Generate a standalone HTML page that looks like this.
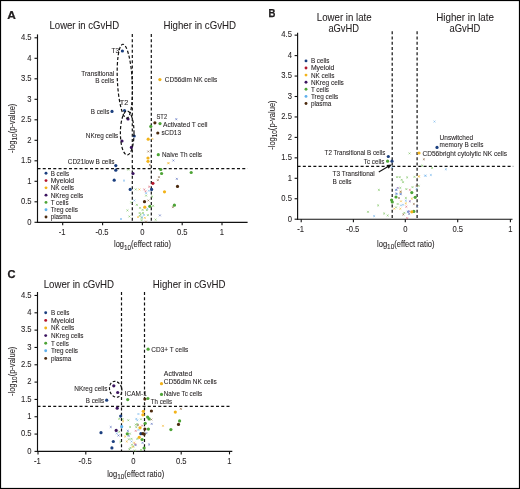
<!DOCTYPE html>
<html><head><meta charset="utf-8"><style>
html,body{margin:0;padding:0;background:#fff;}
svg{display:block;will-change:transform;}
text{font-family:"Liberation Sans", sans-serif;fill:#231f20;stroke:#231f20;stroke-width:0.08px;}
</style></head><body>
<svg width="520" height="489" viewBox="0 0 520 489">
<rect x="0" y="0" width="520" height="489" fill="#fff"/>
<text x="7.2" y="19.3" font-size="11.6" font-weight="bold" fill="#000" textLength="8.6" lengthAdjust="spacingAndGlyphs" style="stroke:#000;stroke-width:0.2px">A</text>
<text x="49.5" y="29.1" font-size="10.8" textLength="69.6" lengthAdjust="spacingAndGlyphs">Lower in cGvHD</text>
<text x="163.4" y="29.1" font-size="10.8" textLength="72.7" lengthAdjust="spacingAndGlyphs">Higher in cGvHD</text>
<line x1="36.9" y1="222.3" x2="247.6" y2="222.3" stroke="#111" stroke-width="1.15"/>
<line x1="37.5" y1="34.4" x2="37.5" y2="222.9" stroke="#111" stroke-width="1.15"/>
<line x1="34.5" y1="222.3" x2="37.5" y2="222.3" stroke="#111" stroke-width="1.1"/>
<text x="27.34" y="224.60" font-size="8.8" textLength="4.26" lengthAdjust="spacingAndGlyphs">0</text>
<line x1="34.5" y1="201.8" x2="37.5" y2="201.8" stroke="#111" stroke-width="1.1"/>
<text x="20.96" y="204.10" font-size="8.8" textLength="10.64" lengthAdjust="spacingAndGlyphs">0.5</text>
<line x1="34.5" y1="181.3" x2="37.5" y2="181.3" stroke="#111" stroke-width="1.1"/>
<text x="27.34" y="183.60" font-size="8.8" textLength="4.26" lengthAdjust="spacingAndGlyphs">1</text>
<line x1="34.5" y1="160.8" x2="37.5" y2="160.8" stroke="#111" stroke-width="1.1"/>
<text x="20.96" y="163.10" font-size="8.8" textLength="10.64" lengthAdjust="spacingAndGlyphs">1.5</text>
<line x1="34.5" y1="140.3" x2="37.5" y2="140.3" stroke="#111" stroke-width="1.1"/>
<text x="27.34" y="142.60" font-size="8.8" textLength="4.26" lengthAdjust="spacingAndGlyphs">2</text>
<line x1="34.5" y1="119.80000000000001" x2="37.5" y2="119.80000000000001" stroke="#111" stroke-width="1.1"/>
<text x="20.96" y="122.10" font-size="8.8" textLength="10.64" lengthAdjust="spacingAndGlyphs">2.5</text>
<line x1="34.5" y1="99.30000000000001" x2="37.5" y2="99.30000000000001" stroke="#111" stroke-width="1.1"/>
<text x="27.34" y="101.60" font-size="8.8" textLength="4.26" lengthAdjust="spacingAndGlyphs">3</text>
<line x1="34.5" y1="78.80000000000001" x2="37.5" y2="78.80000000000001" stroke="#111" stroke-width="1.1"/>
<text x="20.96" y="81.10" font-size="8.8" textLength="10.64" lengthAdjust="spacingAndGlyphs">3.5</text>
<line x1="34.5" y1="58.30000000000001" x2="37.5" y2="58.30000000000001" stroke="#111" stroke-width="1.1"/>
<text x="27.34" y="60.60" font-size="8.8" textLength="4.26" lengthAdjust="spacingAndGlyphs">4</text>
<line x1="34.5" y1="37.80000000000001" x2="37.5" y2="37.80000000000001" stroke="#111" stroke-width="1.1"/>
<text x="20.96" y="40.10" font-size="8.8" textLength="10.64" lengthAdjust="spacingAndGlyphs">4.5</text>
<line x1="62.7" y1="222.3" x2="62.7" y2="225.3" stroke="#111" stroke-width="1.1"/>
<text x="58.70" y="235.20" font-size="8.8" textLength="6.81" lengthAdjust="spacingAndGlyphs">-1</text>
<line x1="102.6" y1="222.3" x2="102.6" y2="225.3" stroke="#111" stroke-width="1.1"/>
<text x="95.40" y="235.20" font-size="8.8" textLength="13.19" lengthAdjust="spacingAndGlyphs">-0.5</text>
<line x1="142.4" y1="222.3" x2="142.4" y2="225.3" stroke="#111" stroke-width="1.1"/>
<text x="140.27" y="235.20" font-size="8.8" textLength="4.26" lengthAdjust="spacingAndGlyphs">0</text>
<line x1="182.2" y1="222.3" x2="182.2" y2="225.3" stroke="#111" stroke-width="1.1"/>
<text x="176.88" y="235.20" font-size="8.8" textLength="10.64" lengthAdjust="spacingAndGlyphs">0.5</text>
<line x1="222.0" y1="222.3" x2="222.0" y2="225.3" stroke="#111" stroke-width="1.1"/>
<text x="219.87" y="235.20" font-size="8.8" textLength="4.26" lengthAdjust="spacingAndGlyphs">1</text>
<line x1="132.3" y1="34" x2="132.3" y2="222.3" stroke="#111" stroke-width="1.2" stroke-dasharray="3 2.25"/>
<line x1="151.3" y1="34" x2="151.3" y2="222.3" stroke="#111" stroke-width="1.2" stroke-dasharray="3 2.25"/>
<line x1="37.5" y1="168.6" x2="247.6" y2="168.6" stroke="#111" stroke-width="1.2" stroke-dasharray="3 2.25"/>
<text x="268.6" y="17.0" font-size="11.6" font-weight="bold" fill="#000" textLength="6.9" lengthAdjust="spacingAndGlyphs" style="stroke:#000;stroke-width:0.25px">B</text>
<line x1="297.0" y1="219.2" x2="512.5" y2="219.2" stroke="#111" stroke-width="1.15"/>
<line x1="297.6" y1="32.7" x2="297.6" y2="219.79999999999998" stroke="#111" stroke-width="1.15"/>
<line x1="294.6" y1="219.2" x2="297.6" y2="219.2" stroke="#111" stroke-width="1.1"/>
<text x="287.64" y="221.50" font-size="8.8" textLength="4.26" lengthAdjust="spacingAndGlyphs">0</text>
<line x1="294.6" y1="198.75" x2="297.6" y2="198.75" stroke="#111" stroke-width="1.1"/>
<text x="281.26" y="201.05" font-size="8.8" textLength="10.64" lengthAdjust="spacingAndGlyphs">0.5</text>
<line x1="294.6" y1="178.29999999999998" x2="297.6" y2="178.29999999999998" stroke="#111" stroke-width="1.1"/>
<text x="287.64" y="180.60" font-size="8.8" textLength="4.26" lengthAdjust="spacingAndGlyphs">1</text>
<line x1="294.6" y1="157.85" x2="297.6" y2="157.85" stroke="#111" stroke-width="1.1"/>
<text x="281.26" y="160.15" font-size="8.8" textLength="10.64" lengthAdjust="spacingAndGlyphs">1.5</text>
<line x1="294.6" y1="137.39999999999998" x2="297.6" y2="137.39999999999998" stroke="#111" stroke-width="1.1"/>
<text x="287.64" y="139.70" font-size="8.8" textLength="4.26" lengthAdjust="spacingAndGlyphs">2</text>
<line x1="294.6" y1="116.94999999999999" x2="297.6" y2="116.94999999999999" stroke="#111" stroke-width="1.1"/>
<text x="281.26" y="119.25" font-size="8.8" textLength="10.64" lengthAdjust="spacingAndGlyphs">2.5</text>
<line x1="294.6" y1="96.5" x2="297.6" y2="96.5" stroke="#111" stroke-width="1.1"/>
<text x="287.64" y="98.80" font-size="8.8" textLength="4.26" lengthAdjust="spacingAndGlyphs">3</text>
<line x1="294.6" y1="76.04999999999998" x2="297.6" y2="76.04999999999998" stroke="#111" stroke-width="1.1"/>
<text x="281.26" y="78.35" font-size="8.8" textLength="10.64" lengthAdjust="spacingAndGlyphs">3.5</text>
<line x1="294.6" y1="55.599999999999994" x2="297.6" y2="55.599999999999994" stroke="#111" stroke-width="1.1"/>
<text x="287.64" y="57.90" font-size="8.8" textLength="4.26" lengthAdjust="spacingAndGlyphs">4</text>
<line x1="294.6" y1="35.150000000000006" x2="297.6" y2="35.150000000000006" stroke="#111" stroke-width="1.1"/>
<text x="281.26" y="37.45" font-size="8.8" textLength="10.64" lengthAdjust="spacingAndGlyphs">4.5</text>
<line x1="301.2" y1="219.2" x2="301.2" y2="222.2" stroke="#111" stroke-width="1.1"/>
<text x="297.20" y="232.10" font-size="8.8" textLength="6.81" lengthAdjust="spacingAndGlyphs">-1</text>
<line x1="353.4" y1="219.2" x2="353.4" y2="222.2" stroke="#111" stroke-width="1.1"/>
<text x="346.20" y="232.10" font-size="8.8" textLength="13.19" lengthAdjust="spacingAndGlyphs">-0.5</text>
<line x1="405.3" y1="219.2" x2="405.3" y2="222.2" stroke="#111" stroke-width="1.1"/>
<text x="403.17" y="232.10" font-size="8.8" textLength="4.26" lengthAdjust="spacingAndGlyphs">0</text>
<line x1="457.7" y1="219.2" x2="457.7" y2="222.2" stroke="#111" stroke-width="1.1"/>
<text x="452.38" y="232.10" font-size="8.8" textLength="10.64" lengthAdjust="spacingAndGlyphs">0.5</text>
<line x1="510.4" y1="219.2" x2="510.4" y2="222.2" stroke="#111" stroke-width="1.1"/>
<text x="508.27" y="232.10" font-size="8.8" textLength="4.26" lengthAdjust="spacingAndGlyphs">1</text>
<line x1="392.2" y1="31.2" x2="392.2" y2="219.2" stroke="#111" stroke-width="1.2" stroke-dasharray="3 2.25"/>
<line x1="417.1" y1="31.2" x2="417.1" y2="219.2" stroke="#111" stroke-width="1.2" stroke-dasharray="3 2.25"/>
<line x1="297.6" y1="166.4" x2="513.2" y2="166.4" stroke="#111" stroke-width="1.2" stroke-dasharray="3 2.25"/>
<text x="7.6" y="278.0" font-size="11.6" font-weight="bold" fill="#000" textLength="8.0" lengthAdjust="spacingAndGlyphs" style="stroke:#000;stroke-width:0.25px">C</text>
<line x1="36.9" y1="451.4" x2="232.3" y2="451.4" stroke="#111" stroke-width="1.15"/>
<line x1="37.5" y1="292" x2="37.5" y2="452.0" stroke="#111" stroke-width="1.15"/>
<line x1="34.5" y1="451.4" x2="37.5" y2="451.4" stroke="#111" stroke-width="1.1"/>
<text x="27.34" y="453.70" font-size="8.8" textLength="4.26" lengthAdjust="spacingAndGlyphs">0</text>
<line x1="34.5" y1="434.075" x2="37.5" y2="434.075" stroke="#111" stroke-width="1.1"/>
<text x="20.96" y="436.38" font-size="8.8" textLength="10.64" lengthAdjust="spacingAndGlyphs">0.5</text>
<line x1="34.5" y1="416.75" x2="37.5" y2="416.75" stroke="#111" stroke-width="1.1"/>
<text x="27.34" y="419.05" font-size="8.8" textLength="4.26" lengthAdjust="spacingAndGlyphs">1</text>
<line x1="34.5" y1="399.42499999999995" x2="37.5" y2="399.42499999999995" stroke="#111" stroke-width="1.1"/>
<text x="20.96" y="401.72" font-size="8.8" textLength="10.64" lengthAdjust="spacingAndGlyphs">1.5</text>
<line x1="34.5" y1="382.09999999999997" x2="37.5" y2="382.09999999999997" stroke="#111" stroke-width="1.1"/>
<text x="27.34" y="384.40" font-size="8.8" textLength="4.26" lengthAdjust="spacingAndGlyphs">2</text>
<line x1="34.5" y1="364.775" x2="37.5" y2="364.775" stroke="#111" stroke-width="1.1"/>
<text x="20.96" y="367.07" font-size="8.8" textLength="10.64" lengthAdjust="spacingAndGlyphs">2.5</text>
<line x1="34.5" y1="347.45" x2="37.5" y2="347.45" stroke="#111" stroke-width="1.1"/>
<text x="27.34" y="349.75" font-size="8.8" textLength="4.26" lengthAdjust="spacingAndGlyphs">3</text>
<line x1="34.5" y1="330.125" x2="37.5" y2="330.125" stroke="#111" stroke-width="1.1"/>
<text x="20.96" y="332.43" font-size="8.8" textLength="10.64" lengthAdjust="spacingAndGlyphs">3.5</text>
<line x1="34.5" y1="312.79999999999995" x2="37.5" y2="312.79999999999995" stroke="#111" stroke-width="1.1"/>
<text x="27.34" y="315.10" font-size="8.8" textLength="4.26" lengthAdjust="spacingAndGlyphs">4</text>
<line x1="34.5" y1="295.475" x2="37.5" y2="295.475" stroke="#111" stroke-width="1.1"/>
<text x="20.96" y="297.78" font-size="8.8" textLength="10.64" lengthAdjust="spacingAndGlyphs">4.5</text>
<line x1="38.0" y1="451.4" x2="38.0" y2="454.4" stroke="#111" stroke-width="1.1"/>
<text x="34.00" y="464.30" font-size="8.8" textLength="6.81" lengthAdjust="spacingAndGlyphs">-1</text>
<line x1="85.8" y1="451.4" x2="85.8" y2="454.4" stroke="#111" stroke-width="1.1"/>
<text x="78.60" y="464.30" font-size="8.8" textLength="13.19" lengthAdjust="spacingAndGlyphs">-0.5</text>
<line x1="133.5" y1="451.4" x2="133.5" y2="454.4" stroke="#111" stroke-width="1.1"/>
<text x="131.37" y="464.30" font-size="8.8" textLength="4.26" lengthAdjust="spacingAndGlyphs">0</text>
<line x1="181.2" y1="451.4" x2="181.2" y2="454.4" stroke="#111" stroke-width="1.1"/>
<text x="175.88" y="464.30" font-size="8.8" textLength="10.64" lengthAdjust="spacingAndGlyphs">0.5</text>
<line x1="229.5" y1="451.4" x2="229.5" y2="454.4" stroke="#111" stroke-width="1.1"/>
<text x="227.37" y="464.30" font-size="8.8" textLength="4.26" lengthAdjust="spacingAndGlyphs">1</text>
<line x1="121.5" y1="292" x2="121.5" y2="451.4" stroke="#111" stroke-width="1.2" stroke-dasharray="3 2.25"/>
<line x1="144.5" y1="292" x2="144.5" y2="451.4" stroke="#111" stroke-width="1.2" stroke-dasharray="3 2.25"/>
<line x1="37.5" y1="406.3" x2="231" y2="406.3" stroke="#111" stroke-width="1.2" stroke-dasharray="3 2.25"/>
<text x="114" y="247.4" font-size="8.6" textLength="57" lengthAdjust="spacingAndGlyphs">log<tspan font-size="7.31" dy="2.6">10</tspan><tspan dy="-2.6">(effect ratio)</tspan></text>
<text transform="translate(14.8 153) rotate(-90)" x="0" y="0" font-size="8.6" textLength="49.4" lengthAdjust="spacingAndGlyphs">-log<tspan font-size="7.31" dy="2.6">10</tspan><tspan dy="-2.6">(p-value)</tspan></text>
<circle cx="46.0" cy="173.30" r="1.45" fill="#1b3f7f"/>
<text x="50.7" y="175.70" font-size="6.4" textLength="18.40" lengthAdjust="spacingAndGlyphs" class="s">B cells</text>
<circle cx="46.0" cy="180.58" r="1.45" fill="#b3172c"/>
<text x="50.7" y="182.98" font-size="6.4" textLength="23.30" lengthAdjust="spacingAndGlyphs" class="s">Myeloid</text>
<circle cx="46.0" cy="187.86" r="1.45" fill="#f2b31a"/>
<text x="50.7" y="190.26" font-size="6.4" textLength="23.30" lengthAdjust="spacingAndGlyphs" class="s">NK cells</text>
<circle cx="46.0" cy="195.14" r="1.45" fill="#3b135f"/>
<text x="50.7" y="197.54" font-size="6.4" textLength="32.60" lengthAdjust="spacingAndGlyphs" class="s">NKreg cells</text>
<circle cx="46.0" cy="202.42" r="1.45" fill="#4ea437"/>
<text x="50.7" y="204.82" font-size="6.4" textLength="17.90" lengthAdjust="spacingAndGlyphs" class="s">T cells</text>
<circle cx="46.0" cy="209.70" r="1.45" fill="#5fb0ec"/>
<text x="50.7" y="212.10" font-size="6.4" textLength="27.10" lengthAdjust="spacingAndGlyphs" class="s">Treg cells</text>
<circle cx="46.0" cy="216.98" r="1.45" fill="#4b2a0e"/>
<text x="50.7" y="219.38" font-size="6.4" textLength="20.30" lengthAdjust="spacingAndGlyphs" class="s">plasma</text>
<text x="111.5" y="52.9" font-size="7.0" textLength="7.6" lengthAdjust="spacingAndGlyphs">T3</text>
<text x="81.3" y="75.8" font-size="7.0" textLength="32.9" lengthAdjust="spacingAndGlyphs">Transitional</text>
<text x="95.2" y="83.2" font-size="7.0" textLength="19" lengthAdjust="spacingAndGlyphs">B cells</text>
<text x="119.8" y="105" font-size="7.0" textLength="8.5" lengthAdjust="spacingAndGlyphs">T2</text>
<text x="90.8" y="113.8" font-size="7.0" textLength="18.5" lengthAdjust="spacingAndGlyphs">B cells</text>
<text x="85.8" y="138" font-size="7.0" textLength="32.5" lengthAdjust="spacingAndGlyphs">NKreg cells</text>
<text x="67.8" y="163.7" font-size="7.0" textLength="46.7" lengthAdjust="spacingAndGlyphs">CD21low B cells</text>
<text x="164.8" y="81.9" font-size="7.0" textLength="52.5" lengthAdjust="spacingAndGlyphs">CD56dim NK cells</text>
<text x="156.5" y="118.7" font-size="7.0" textLength="10.6" lengthAdjust="spacingAndGlyphs">ST2</text>
<text x="163" y="127.4" font-size="7.0" textLength="44.5" lengthAdjust="spacingAndGlyphs">Activated T cell</text>
<text x="161.4" y="135" font-size="7.0" textLength="19.6" lengthAdjust="spacingAndGlyphs">sCD13</text>
<text x="162" y="157.2" font-size="7.0" textLength="40" lengthAdjust="spacingAndGlyphs">Naive Th cells</text>
<text x="316.8" y="20.6" font-size="10.8" textLength="54.8" lengthAdjust="spacingAndGlyphs">Lower in late</text>
<text x="328.4" y="32.3" font-size="10.8" textLength="30.6" lengthAdjust="spacingAndGlyphs">aGvHD</text>
<text x="436.2" y="20.6" font-size="10.8" textLength="57.8" lengthAdjust="spacingAndGlyphs">Higher in late</text>
<text x="449.6" y="32.3" font-size="10.8" textLength="30.8" lengthAdjust="spacingAndGlyphs">aGvHD</text>
<text x="377" y="246.5" font-size="8.6" textLength="57.6" lengthAdjust="spacingAndGlyphs">log<tspan font-size="7.31" dy="2.6">10</tspan><tspan dy="-2.6">(effect ratio)</tspan></text>
<text transform="translate(274.5 149.8) rotate(-90)" x="0" y="0" font-size="8.6" textLength="49.4" lengthAdjust="spacingAndGlyphs">-log<tspan font-size="7.31" dy="2.6">10</tspan><tspan dy="-2.6">(p-value)</tspan></text>
<circle cx="306.0" cy="60.90" r="1.45" fill="#1b3f7f"/>
<text x="310.9" y="63.30" font-size="6.4" textLength="18.57" lengthAdjust="spacingAndGlyphs" class="s">B cells</text>
<circle cx="306.0" cy="68.00" r="1.45" fill="#b3172c"/>
<text x="310.9" y="70.40" font-size="6.4" textLength="23.51" lengthAdjust="spacingAndGlyphs" class="s">Myeloid</text>
<circle cx="306.0" cy="75.10" r="1.45" fill="#f2b31a"/>
<text x="310.9" y="77.50" font-size="6.4" textLength="23.51" lengthAdjust="spacingAndGlyphs" class="s">NK cells</text>
<circle cx="306.0" cy="82.20" r="1.45" fill="#3b135f"/>
<text x="310.9" y="84.60" font-size="6.4" textLength="32.90" lengthAdjust="spacingAndGlyphs" class="s">NKreg cells</text>
<circle cx="306.0" cy="89.30" r="1.45" fill="#4ea437"/>
<text x="310.9" y="91.70" font-size="6.4" textLength="18.06" lengthAdjust="spacingAndGlyphs" class="s">T cells</text>
<circle cx="306.0" cy="96.40" r="1.45" fill="#5fb0ec"/>
<text x="310.9" y="98.80" font-size="6.4" textLength="27.35" lengthAdjust="spacingAndGlyphs" class="s">Treg cells</text>
<circle cx="306.0" cy="103.50" r="1.45" fill="#4b2a0e"/>
<text x="310.9" y="105.90" font-size="6.4" textLength="20.49" lengthAdjust="spacingAndGlyphs" class="s">plasma</text>
<text x="439.6" y="139.6" font-size="6.9" textLength="33.6" lengthAdjust="spacingAndGlyphs">Unswitched</text>
<text x="439.6" y="146.5" font-size="6.9" textLength="43.8" lengthAdjust="spacingAndGlyphs">memory B cells</text>
<text x="422.4" y="156.3" font-size="6.9" textLength="84.7" lengthAdjust="spacingAndGlyphs">CD56bright cytolytic NK cells</text>
<text x="324.6" y="155.2" font-size="6.9" textLength="60.8" lengthAdjust="spacingAndGlyphs">T2 Transitional B cells</text>
<text x="363.8" y="163.7" font-size="6.9" textLength="20.5" lengthAdjust="spacingAndGlyphs">Tc cells</text>
<text x="332.6" y="176.3" font-size="6.9" textLength="42.2" lengthAdjust="spacingAndGlyphs">T3 Transitional</text>
<text x="332.6" y="184.2" font-size="6.9" textLength="19" lengthAdjust="spacingAndGlyphs">B cells</text>
<text x="43.7" y="287.5" font-size="10.8" textLength="70.4" lengthAdjust="spacingAndGlyphs">Lower in cGvHD</text>
<text x="152.8" y="287.5" font-size="10.8" textLength="72.7" lengthAdjust="spacingAndGlyphs">Higher in cGvHD</text>
<text x="107.2" y="476.5" font-size="8.6" textLength="57" lengthAdjust="spacingAndGlyphs">log<tspan font-size="7.31" dy="2.6">10</tspan><tspan dy="-2.6">(effect ratio)</tspan></text>
<text transform="translate(14.5 396) rotate(-90)" x="0" y="0" font-size="8.6" textLength="49.4" lengthAdjust="spacingAndGlyphs">-log<tspan font-size="7.31" dy="2.6">10</tspan><tspan dy="-2.6">(p-value)</tspan></text>
<circle cx="45.7" cy="312.80" r="1.45" fill="#1b3f7f"/>
<text x="50.9" y="315.20" font-size="6.4" textLength="18.40" lengthAdjust="spacingAndGlyphs" class="s">B cells</text>
<circle cx="45.7" cy="320.40" r="1.45" fill="#b3172c"/>
<text x="50.9" y="322.80" font-size="6.4" textLength="23.30" lengthAdjust="spacingAndGlyphs" class="s">Myeloid</text>
<circle cx="45.7" cy="328.00" r="1.45" fill="#f2b31a"/>
<text x="50.9" y="330.40" font-size="6.4" textLength="23.30" lengthAdjust="spacingAndGlyphs" class="s">NK cells</text>
<circle cx="45.7" cy="335.60" r="1.45" fill="#3b135f"/>
<text x="50.9" y="338.00" font-size="6.4" textLength="32.60" lengthAdjust="spacingAndGlyphs" class="s">NKreg cells</text>
<circle cx="45.7" cy="343.20" r="1.45" fill="#4ea437"/>
<text x="50.9" y="345.60" font-size="6.4" textLength="17.90" lengthAdjust="spacingAndGlyphs" class="s">T cells</text>
<circle cx="45.7" cy="350.80" r="1.45" fill="#5fb0ec"/>
<text x="50.9" y="353.20" font-size="6.4" textLength="27.10" lengthAdjust="spacingAndGlyphs" class="s">Treg cells</text>
<circle cx="45.7" cy="358.40" r="1.45" fill="#4b2a0e"/>
<text x="50.9" y="360.80" font-size="6.4" textLength="20.30" lengthAdjust="spacingAndGlyphs" class="s">plasma</text>
<text x="151.3" y="352" font-size="7.0" textLength="37" lengthAdjust="spacingAndGlyphs">CD3+ T cells</text>
<text x="163.8" y="376.2" font-size="7.0" textLength="28.5" lengthAdjust="spacingAndGlyphs">Activated</text>
<text x="163.8" y="384.2" font-size="7.0" textLength="53" lengthAdjust="spacingAndGlyphs">CD56dim NK cells</text>
<text x="163.8" y="396.2" font-size="7.0" textLength="38.4" lengthAdjust="spacingAndGlyphs">Naive Tc cells</text>
<text x="150.8" y="403.8" font-size="7.0" textLength="21.2" lengthAdjust="spacingAndGlyphs">Th cells</text>
<text x="74.2" y="391.2" font-size="7.0" textLength="33.2" lengthAdjust="spacingAndGlyphs">NKreg cells</text>
<text x="124.8" y="396.3" font-size="7.0" textLength="22" lengthAdjust="spacingAndGlyphs">ICAM-1</text>
<text x="85.8" y="402.7" font-size="7.0" textLength="18.3" lengthAdjust="spacingAndGlyphs">B cells</text>
<path d="M175.4 118.2L177.2 120.2M177.2 118.2L175.4 120.2" stroke="#5f72c0" stroke-width="0.65"/>
<path d="M151.5 138.0L153.3 139.8M153.3 138.0L151.5 139.8" stroke="#f2bb3c" stroke-width="0.65"/>
<path d="M147.4 150.6L149.2 152.4M149.2 150.6L147.4 152.4" stroke="#8f6d4c" stroke-width="0.65"/>
<path d="M167.6 162.1L169.4 163.9M169.4 162.1L167.6 163.9" stroke="#f2bb3c" stroke-width="0.65"/>
<path d="M172.5 159.6L174.3 161.4M174.3 159.6L172.5 161.4" stroke="#5f72c0" stroke-width="0.65"/>
<path d="M148.9 164.0L150.8 165.8M150.8 164.0L148.9 165.8" stroke="#8f6d4c" stroke-width="0.65"/>
<path d="M127.4 168.7L129.2 170.5M129.2 168.7L127.4 170.5" stroke="#80c465" stroke-width="0.65"/>
<path d="M158.1 176.2L159.9 178.1M159.9 176.2L158.1 178.1" stroke="#8f6d4c" stroke-width="0.65"/>
<path d="M156.9 179.2L158.8 181.1M158.8 179.2L156.9 181.1" stroke="#8f6d4c" stroke-width="0.65"/>
<path d="M123.0 179.7L125.0 181.5M125.0 179.7L123.0 181.5" stroke="#78b8ec" stroke-width="0.65"/>
<path d="M148.2 185.8L150.1 187.6M150.1 185.8L148.2 187.6" stroke="#dc6f80" stroke-width="0.65"/>
<path d="M143.4 188.5L145.2 190.3M145.2 188.5L143.4 190.3" stroke="#dc6f80" stroke-width="0.65"/>
<path d="M144.6 190.4L146.4 192.2M146.4 190.4L144.6 192.2" stroke="#dc6f80" stroke-width="0.65"/>
<path d="M134.8 188.5L136.6 190.3M136.6 188.5L134.8 190.3" stroke="#80c465" stroke-width="0.65"/>
<path d="M138.5 188.5L140.3 190.3M140.3 188.5L138.5 190.3" stroke="#f2bb3c" stroke-width="0.65"/>
<path d="M145.2 192.2L147.0 194.0M147.0 192.2L145.2 194.0" stroke="#78b8ec" stroke-width="0.65"/>
<path d="M148.0 189.8L149.8 191.6M149.8 189.8L148.0 191.6" stroke="#78b8ec" stroke-width="0.65"/>
<path d="M145.2 194.7L147.0 196.5M147.0 194.7L145.2 196.5" stroke="#80c465" stroke-width="0.65"/>
<path d="M151.2 195.7L153.1 197.5M153.1 195.7L151.2 197.5" stroke="#80c465" stroke-width="0.65"/>
<path d="M133.5 199.6L135.3 201.4M135.3 199.6L133.5 201.4" stroke="#78b8ec" stroke-width="0.65"/>
<path d="M130.4 201.5L132.2 203.3M132.2 201.5L130.4 203.3" stroke="#80c465" stroke-width="0.65"/>
<path d="M147.5 199.6L149.3 201.4M149.3 199.6L147.5 201.4" stroke="#8f6d4c" stroke-width="0.65"/>
<path d="M152.2 204.9L154.1 206.8M154.1 204.9L152.2 206.8" stroke="#80c465" stroke-width="0.65"/>
<path d="M135.9 203.9L137.8 205.8M137.8 203.9L135.9 205.8" stroke="#80c465" stroke-width="0.65"/>
<path d="M126.5 209.5L128.4 211.3M128.4 209.5L126.5 211.3" stroke="#80c465" stroke-width="0.65"/>
<path d="M139.1 207.0L140.9 208.8M140.9 207.0L139.1 208.8" stroke="#80c465" stroke-width="0.65"/>
<path d="M146.5 207.8L148.3 209.6M148.3 207.8L146.5 209.6" stroke="#78b8ec" stroke-width="0.65"/>
<path d="M141.7 208.9L143.5 210.8M143.5 208.9L141.7 210.8" stroke="#80c465" stroke-width="0.65"/>
<path d="M146.0 209.2L147.8 211.0M147.8 209.2L146.0 211.0" stroke="#80c465" stroke-width="0.65"/>
<path d="M138.8 212.1L140.6 213.9M140.6 212.1L138.8 213.9" stroke="#80c465" stroke-width="0.65"/>
<path d="M142.1 212.1L143.9 213.9M143.9 212.1L142.1 213.9" stroke="#80c465" stroke-width="0.65"/>
<path d="M139.8 213.5L141.6 215.3M141.6 213.5L139.8 215.3" stroke="#80c465" stroke-width="0.65"/>
<path d="M143.1 214.0L144.9 215.8M144.9 214.0L143.1 215.8" stroke="#78b8ec" stroke-width="0.65"/>
<path d="M138.8 215.0L140.6 216.8M140.6 215.0L138.8 216.8" stroke="#80c465" stroke-width="0.65"/>
<path d="M140.7 216.9L142.5 218.8M142.5 216.9L140.7 218.8" stroke="#80c465" stroke-width="0.65"/>
<path d="M137.1 216.2L138.9 218.0M138.9 216.2L137.1 218.0" stroke="#f2bb3c" stroke-width="0.65"/>
<path d="M143.9 216.9L145.8 218.8M145.8 216.9L143.9 218.8" stroke="#f2bb3c" stroke-width="0.65"/>
<path d="M141.2 216.4L143.0 218.2M143.0 216.4L141.2 218.2" stroke="#78b8ec" stroke-width="0.65"/>
<path d="M147.0 214.2L148.8 216.1M148.8 214.2L147.0 216.1" stroke="#80c465" stroke-width="0.65"/>
<path d="M128.5 215.6L130.3 217.4M130.3 215.6L128.5 217.4" stroke="#80c465" stroke-width="0.65"/>
<path d="M159.0 214.5L160.8 216.3M160.8 214.5L159.0 216.3" stroke="#5f72c0" stroke-width="0.65"/>
<path d="M175.9 177.9L177.8 179.8M177.8 177.9L175.9 179.8" stroke="#5f72c0" stroke-width="0.65"/>
<path d="M154.7 218.8L156.5 220.6M156.5 218.8L154.7 220.6" stroke="#80c465" stroke-width="0.65"/>
<path d="M120.0 218.1L122.0 219.9M122.0 218.1L120.0 219.9" stroke="#78b8ec" stroke-width="0.65"/>
<path d="M140.7 219.2L142.5 221.1M142.5 219.2L140.7 221.1" stroke="#80c465" stroke-width="0.65"/>
<path d="M145.1 220.7L146.9 222.5M146.9 220.7L145.1 222.5" stroke="#8f6d4c" stroke-width="0.65"/>
<path d="M172.0 206.2L173.8 208.1M173.8 206.2L172.0 208.1" stroke="#8f6d4c" stroke-width="0.65"/>
<path d="M167.4 162.5L169.2 164.3M169.2 162.5L167.4 164.3" stroke="#f2bb3c" stroke-width="0.65"/>
<circle cx="122.4" cy="51" r="1.6" fill="#1b3f7f"/>
<circle cx="112" cy="111.4" r="1.6" fill="#1b3f7f"/>
<circle cx="124.5" cy="110.5" r="1.6" fill="#1b3f7f"/>
<circle cx="128" cy="119" r="1.6" fill="#3b135f"/>
<circle cx="122" cy="141" r="1.6" fill="#3b135f"/>
<circle cx="131.4" cy="147.4" r="1.6" fill="#3b135f"/>
<circle cx="134.2" cy="136" r="1.6" fill="#1b3f7f"/>
<circle cx="115.8" cy="165.6" r="1.6" fill="#1b3f7f"/>
<circle cx="115.8" cy="170.2" r="1.6" fill="#1b3f7f"/>
<circle cx="133" cy="173.5" r="1.6" fill="#3b135f"/>
<circle cx="148.2" cy="139.2" r="1.6" fill="#f2b31a"/>
<circle cx="148" cy="158" r="1.6" fill="#f2b31a"/>
<circle cx="148" cy="161.3" r="1.6" fill="#f2b31a"/>
<circle cx="159.9" cy="79.6" r="1.6" fill="#f2b31a"/>
<circle cx="154.9" cy="122.8" r="1.6" fill="#4b2a0e"/>
<circle cx="160" cy="123.6" r="1.6" fill="#4ea437"/>
<circle cx="150.8" cy="126.4" r="1.6" fill="#4ea437"/>
<circle cx="157.8" cy="133" r="1.6" fill="#4b2a0e"/>
<circle cx="158.3" cy="154.7" r="1.6" fill="#4ea437"/>
<circle cx="160.8" cy="169.5" r="1.6" fill="#4ea437"/>
<circle cx="161.6" cy="173.5" r="1.6" fill="#4ea437"/>
<circle cx="191.2" cy="172.5" r="1.6" fill="#4ea437"/>
<circle cx="114.2" cy="180.2" r="1.6" fill="#1b3f7f"/>
<circle cx="152.9" cy="183.3" r="1.6" fill="#b3172c"/>
<circle cx="130.2" cy="189.4" r="1.6" fill="#1b3f7f"/>
<circle cx="151.6" cy="189.4" r="1.6" fill="#1b3f7f"/>
<circle cx="164.5" cy="191.8" r="1.6" fill="#f2b31a"/>
<circle cx="177.5" cy="186.4" r="1.6" fill="#4b2a0e"/>
<circle cx="144.5" cy="201.7" r="1.6" fill="#4b2a0e"/>
<circle cx="144.8" cy="207.2" r="1.6" fill="#f2b31a"/>
<circle cx="149.8" cy="206.3" r="1.6" fill="#4ea437"/>
<circle cx="174.4" cy="205.2" r="1.6" fill="#4ea437"/>
<ellipse cx="124.8" cy="81.2" rx="7.4" ry="37" transform="rotate(-3 124.8 81)" fill="none" stroke="#111" stroke-width="1.2" stroke-dasharray="3.2 2"/>
<ellipse cx="127.2" cy="133" rx="6.8" ry="22" fill="none" stroke="#111" stroke-width="1.2" stroke-dasharray="3.2 2"/>
<path d="M433.6 120.6L435.4 122.5M435.4 120.6L433.6 122.5" stroke="#78b8ec" stroke-width="0.65"/>
<path d="M408.6 152.5L410.4 154.3M410.4 152.5L408.6 154.3" stroke="#80c465" stroke-width="0.65"/>
<path d="M422.9 158.4L424.8 160.2M424.8 158.4L422.9 160.2" stroke="#8f6d4c" stroke-width="0.65"/>
<path d="M444.9 168.4L446.8 170.2M446.8 168.4L444.9 170.2" stroke="#78b8ec" stroke-width="0.65"/>
<path d="M429.9 174.1L431.8 175.9M431.8 174.1L429.9 175.9" stroke="#78b8ec" stroke-width="0.65"/>
<path d="M424.6 174.9L426.4 176.8M426.4 174.9L424.6 176.8" stroke="#78b8ec" stroke-width="0.65"/>
<path d="M431.2 167.0L433.1 168.8M433.1 167.0L431.2 168.8" stroke="#80c465" stroke-width="0.65"/>
<path d="M421.2 164.8L423.1 166.6M423.1 164.8L421.2 166.6" stroke="#80c465" stroke-width="0.65"/>
<path d="M417.7 175.6L419.6 177.4M419.6 175.6L417.7 177.4" stroke="#f2bb3c" stroke-width="0.65"/>
<path d="M417.7 184.9L419.6 186.8M419.6 184.9L417.7 186.8" stroke="#80c465" stroke-width="0.65"/>
<path d="M377.9 189.0L379.8 190.8M379.8 189.0L377.9 190.8" stroke="#80c465" stroke-width="0.65"/>
<path d="M396.1 176.2L397.9 178.0M397.9 176.2L396.1 178.0" stroke="#80c465" stroke-width="0.65"/>
<path d="M398.8 176.2L400.6 178.0M400.6 176.2L398.8 178.0" stroke="#80c465" stroke-width="0.65"/>
<path d="M406.2 176.5L408.1 178.3M408.1 176.5L406.2 178.3" stroke="#80c465" stroke-width="0.65"/>
<path d="M400.8 178.9L402.6 180.8M402.6 178.9L400.8 180.8" stroke="#80c465" stroke-width="0.65"/>
<path d="M402.1 181.2L403.9 183.1M403.9 181.2L402.1 183.1" stroke="#80c465" stroke-width="0.65"/>
<path d="M413.6 175.9L415.4 177.8M415.4 175.9L413.6 177.8" stroke="#80c465" stroke-width="0.65"/>
<path d="M377.2 204.5L379.1 206.3M379.1 204.5L377.2 206.3" stroke="#80c465" stroke-width="0.65"/>
<path d="M367.1 210.9L368.9 212.8M368.9 210.9L367.1 212.8" stroke="#80c465" stroke-width="0.65"/>
<path d="M383.2 212.6L385.1 214.4M385.1 212.6L383.2 214.4" stroke="#80c465" stroke-width="0.65"/>
<path d="M386.7 214.6L388.6 216.4M388.6 214.6L386.7 216.4" stroke="#80c465" stroke-width="0.65"/>
<path d="M395.1 206.5L396.9 208.3M396.9 206.5L395.1 208.3" stroke="#80c465" stroke-width="0.65"/>
<path d="M404.9 197.1L406.8 198.9M406.8 197.1L404.9 198.9" stroke="#80c465" stroke-width="0.65"/>
<path d="M405.4 188.2L407.3 190.1M407.3 188.2L405.4 190.1" stroke="#80c465" stroke-width="0.65"/>
<path d="M411.6 186.2L413.4 188.1M413.4 186.2L411.6 188.1" stroke="#80c465" stroke-width="0.65"/>
<path d="M399.4 187.0L401.3 188.8M401.3 187.0L399.4 188.8" stroke="#80c465" stroke-width="0.65"/>
<path d="M396.8 203.1L398.6 204.9M398.6 203.1L396.8 204.9" stroke="#80c465" stroke-width="0.65"/>
<path d="M403.4 211.9L405.3 213.8M405.3 211.9L403.4 213.8" stroke="#80c465" stroke-width="0.65"/>
<path d="M424.4 174.6L426.2 176.4M426.2 174.6L424.4 176.4" stroke="#78b8ec" stroke-width="0.65"/>
<path d="M395.1 189.0L396.9 190.8M396.9 189.0L395.1 190.8" stroke="#78b8ec" stroke-width="0.65"/>
<path d="M396.1 193.0L397.9 194.8M397.9 193.0L396.1 194.8" stroke="#78b8ec" stroke-width="0.65"/>
<path d="M399.4 193.0L401.3 194.8M401.3 193.0L399.4 194.8" stroke="#78b8ec" stroke-width="0.65"/>
<path d="M400.1 204.5L401.9 206.3M401.9 204.5L400.1 206.3" stroke="#78b8ec" stroke-width="0.65"/>
<path d="M402.1 203.8L403.9 205.6M403.9 203.8L402.1 205.6" stroke="#78b8ec" stroke-width="0.65"/>
<path d="M404.9 199.8L406.8 201.6M406.8 199.8L404.9 201.6" stroke="#78b8ec" stroke-width="0.65"/>
<path d="M373.2 215.2L375.1 217.0M375.1 215.2L373.2 217.0" stroke="#78b8ec" stroke-width="0.65"/>
<path d="M391.1 166.5L392.9 168.3M392.9 166.5L391.1 168.3" stroke="#78b8ec" stroke-width="0.65"/>
<path d="M406.9 210.5L408.8 212.3M408.8 210.5L406.9 212.3" stroke="#78b8ec" stroke-width="0.65"/>
<path d="M415.6 187.7L417.4 189.5M417.4 187.7L415.6 189.5" stroke="#78b8ec" stroke-width="0.65"/>
<path d="M418.1 175.5L419.9 177.3M419.9 175.5L418.1 177.3" stroke="#f2bb3c" stroke-width="0.65"/>
<path d="M399.4 191.0L401.3 192.8M401.3 191.0L399.4 192.8" stroke="#f2bb3c" stroke-width="0.65"/>
<path d="M400.1 200.4L401.9 202.2M401.9 200.4L400.1 202.2" stroke="#f2bb3c" stroke-width="0.65"/>
<path d="M410.9 197.7L412.8 199.5M412.8 197.7L410.9 199.5" stroke="#f2bb3c" stroke-width="0.65"/>
<path d="M393.4 207.8L395.2 209.6M395.2 207.8L393.4 209.6" stroke="#f2bb3c" stroke-width="0.65"/>
<path d="M399.4 207.8L401.3 209.6M401.3 207.8L399.4 209.6" stroke="#f2bb3c" stroke-width="0.65"/>
<path d="M404.9 202.5L406.8 204.3M406.8 202.5L404.9 204.3" stroke="#f2bb3c" stroke-width="0.65"/>
<path d="M396.8 187.0L398.6 188.8M398.6 187.0L396.8 188.8" stroke="#7d5aa8" stroke-width="0.65"/>
<path d="M408.9 200.4L410.8 202.2M410.8 200.4L408.9 202.2" stroke="#7d5aa8" stroke-width="0.65"/>
<path d="M408.2 210.5L410.1 212.3M410.1 210.5L408.2 212.3" stroke="#7d5aa8" stroke-width="0.65"/>
<path d="M408.9 189.0L410.8 190.8M410.8 189.0L408.9 190.8" stroke="#dc6f80" stroke-width="0.65"/>
<path d="M405.4 205.8L407.3 207.6M407.3 205.8L405.4 207.6" stroke="#dc6f80" stroke-width="0.65"/>
<path d="M406.2 217.2L408.1 219.1M408.1 217.2L406.2 219.1" stroke="#dc6f80" stroke-width="0.65"/>
<path d="M398.1 197.1L399.9 198.9M399.9 197.1L398.1 198.9" stroke="#8f6d4c" stroke-width="0.65"/>
<path d="M412.9 203.1L414.8 204.9M414.8 203.1L412.9 204.9" stroke="#8f6d4c" stroke-width="0.65"/>
<path d="M415.8 185.1L417.6 186.9M417.6 185.1L415.8 186.9" stroke="#8f6d4c" stroke-width="0.65"/>
<path d="M416.4 205.4L418.2 207.2M418.2 205.4L416.4 207.2" stroke="#5f72c0" stroke-width="0.65"/>
<path d="M395.4 188.9L397.3 190.8M397.3 188.9L395.4 190.8" stroke="#5f72c0" stroke-width="0.65"/>
<path d="M395.2 192.7L397.1 194.5M397.1 192.7L395.2 194.5" stroke="#5f72c0" stroke-width="0.65"/>
<path d="M399.9 193.2L401.8 195.1M401.8 193.2L399.9 195.1" stroke="#5f72c0" stroke-width="0.65"/>
<path d="M399.9 190.8L401.8 192.6M401.8 190.8L399.9 192.6" stroke="#8f6d4c" stroke-width="0.65"/>
<path d="M406.9 211.1L408.8 212.9M408.8 211.1L406.9 212.9" stroke="#5f72c0" stroke-width="0.65"/>
<path d="M408.2 213.0L410.1 214.8M410.1 213.0L408.2 214.8" stroke="#5f72c0" stroke-width="0.65"/>
<path d="M402.4 213.6L404.3 215.4M404.3 213.6L402.4 215.4" stroke="#8f6d4c" stroke-width="0.65"/>
<circle cx="437" cy="147.4" r="1.6" fill="#1b3f7f"/>
<circle cx="419" cy="153" r="1.6" fill="#f2b31a"/>
<circle cx="388.3" cy="156.5" r="1.6" fill="#1b3f7f"/>
<circle cx="387.6" cy="161.2" r="1.6" fill="#4ea437"/>
<circle cx="392" cy="161.2" r="1.6" fill="#1b3f7f"/>
<circle cx="411.8" cy="192.6" r="1.6" fill="#4ea437"/>
<circle cx="396" cy="197" r="1.6" fill="#4ea437"/>
<circle cx="415.2" cy="197.3" r="1.6" fill="#4ea437"/>
<circle cx="391.6" cy="200" r="1.6" fill="#4ea437"/>
<circle cx="392.3" cy="202" r="1.6" fill="#4ea437"/>
<circle cx="413.8" cy="211.4" r="1.6" fill="#4ea437"/>
<circle cx="411.8" cy="211.8" r="1.6" fill="#f2b31a"/>
<line x1="378.8" y1="171.9" x2="388.5" y2="166.3" stroke="#111" stroke-width="1.15"/>
<path d="M391.9 164.4 L386.5 164.9 L388.7 168.7 Z" fill="#111"/>
<path d="M179.9 407.9L181.8 409.8M181.8 407.9L179.9 409.8" stroke="#8f6d4c" stroke-width="0.65"/>
<path d="M150.5 418.6L152.3 420.4M152.3 418.6L150.5 420.4" stroke="#8f6d4c" stroke-width="0.65"/>
<path d="M150.8 422.9L152.6 424.8M152.6 422.9L150.8 424.8" stroke="#5f72c0" stroke-width="0.65"/>
<path d="M162.1 424.9L163.9 426.8M163.9 424.9L162.1 426.8" stroke="#f2bb3c" stroke-width="0.65"/>
<path d="M145.5 432.2L147.3 434.1M147.3 432.2L145.5 434.1" stroke="#5f72c0" stroke-width="0.65"/>
<path d="M141.7 441.9L143.5 443.8M143.5 441.9L141.7 443.8" stroke="#5f72c0" stroke-width="0.65"/>
<path d="M148.2 443.6L150.0 445.4M150.0 443.6L148.2 445.4" stroke="#5f72c0" stroke-width="0.65"/>
<path d="M137.5 413.1L139.3 414.9M139.3 413.1L137.5 414.9" stroke="#78b8ec" stroke-width="0.65"/>
<path d="M118.3 417.9L120.2 419.8M120.2 417.9L118.3 419.8" stroke="#80c465" stroke-width="0.65"/>
<path d="M121.8 418.4L123.7 420.2M123.7 418.4L121.8 420.2" stroke="#80c465" stroke-width="0.65"/>
<path d="M122.0 420.4L124.0 422.3M124.0 420.4L122.0 422.3" stroke="#f2bb3c" stroke-width="0.65"/>
<path d="M127.4 419.4L129.2 421.2M129.2 419.4L127.4 421.2" stroke="#80c465" stroke-width="0.65"/>
<path d="M135.4 417.9L137.2 419.8M137.2 417.9L135.4 419.8" stroke="#78b8ec" stroke-width="0.65"/>
<path d="M136.4 419.4L138.2 421.2M138.2 419.4L136.4 421.2" stroke="#78b8ec" stroke-width="0.65"/>
<path d="M140.1 418.4L141.9 420.2M141.9 418.4L140.1 420.2" stroke="#80c465" stroke-width="0.65"/>
<path d="M134.8 423.7L136.6 425.6M136.6 423.7L134.8 425.6" stroke="#80c465" stroke-width="0.65"/>
<path d="M136.4 423.1L138.2 424.9M138.2 423.1L136.4 424.9" stroke="#80c465" stroke-width="0.65"/>
<path d="M141.2 424.7L143.0 426.6M143.0 424.7L141.2 426.6" stroke="#dc6f80" stroke-width="0.65"/>
<path d="M137.0 424.2L138.8 426.1M138.8 424.2L137.0 426.1" stroke="#8f6d4c" stroke-width="0.65"/>
<path d="M137.5 428.9L139.3 430.8M139.3 428.9L137.5 430.8" stroke="#78b8ec" stroke-width="0.65"/>
<path d="M134.8 429.9L136.6 431.8M136.6 429.9L134.8 431.8" stroke="#dc6f80" stroke-width="0.65"/>
<path d="M135.4 426.2L137.2 428.1M137.2 426.2L135.4 428.1" stroke="#80c465" stroke-width="0.65"/>
<path d="M109.8 426.1L111.7 427.9M111.7 426.1L109.8 427.9" stroke="#5f72c0" stroke-width="0.65"/>
<path d="M129.2 426.1L131.0 427.9M131.0 426.1L129.2 427.9" stroke="#80c465" stroke-width="0.65"/>
<path d="M118.3 430.8L120.2 432.6M120.2 430.8L118.3 432.6" stroke="#80c465" stroke-width="0.65"/>
<path d="M115.8 432.4L117.7 434.3M117.7 432.4L115.8 434.3" stroke="#78b8ec" stroke-width="0.65"/>
<path d="M117.5 434.6L119.5 436.4M119.5 434.6L117.5 436.4" stroke="#5f72c0" stroke-width="0.65"/>
<path d="M126.8 429.9L128.8 431.8M128.8 429.9L126.8 431.8" stroke="#5f72c0" stroke-width="0.65"/>
<path d="M129.0 432.7L130.8 434.6M130.8 432.7L129.0 434.6" stroke="#80c465" stroke-width="0.65"/>
<path d="M124.2 435.6L126.2 437.4M126.2 435.6L124.2 437.4" stroke="#f2bb3c" stroke-width="0.65"/>
<path d="M127.7 434.9L129.6 436.8M129.6 434.9L127.7 436.8" stroke="#5f72c0" stroke-width="0.65"/>
<path d="M128.0 438.4L129.8 440.3M129.8 438.4L128.0 440.3" stroke="#80c465" stroke-width="0.65"/>
<path d="M130.6 437.9L132.4 439.8M132.4 437.9L130.6 439.8" stroke="#80c465" stroke-width="0.65"/>
<path d="M136.4 437.9L138.2 439.8M138.2 437.9L136.4 439.8" stroke="#80c465" stroke-width="0.65"/>
<path d="M119.5 441.1L121.4 442.9M121.4 441.1L119.5 442.9" stroke="#80c465" stroke-width="0.65"/>
<path d="M125.8 440.6L127.7 442.4M127.7 440.6L125.8 442.4" stroke="#f2bb3c" stroke-width="0.65"/>
<path d="M130.6 440.6L132.4 442.4M132.4 440.6L130.6 442.4" stroke="#78b8ec" stroke-width="0.65"/>
<path d="M133.2 441.7L135.1 443.6M135.1 441.7L133.2 443.6" stroke="#f2bb3c" stroke-width="0.65"/>
<path d="M131.1 443.8L132.9 445.6M132.9 443.8L131.1 445.6" stroke="#80c465" stroke-width="0.65"/>
<path d="M132.7 445.4L134.5 447.2M134.5 445.4L132.7 447.2" stroke="#80c465" stroke-width="0.65"/>
<path d="M129.5 446.9L131.3 448.8M131.3 446.9L129.5 448.8" stroke="#80c465" stroke-width="0.65"/>
<path d="M134.2 443.2L136.1 445.1M136.1 443.2L134.2 445.1" stroke="#dc6f80" stroke-width="0.65"/>
<path d="M134.8 444.2L136.6 446.1M136.6 444.2L134.8 446.1" stroke="#5f72c0" stroke-width="0.65"/>
<path d="M131.7 445.9L133.5 447.8M133.5 445.9L131.7 447.8" stroke="#f2bb3c" stroke-width="0.65"/>
<path d="M128.5 448.4L130.3 450.3M130.3 448.4L128.5 450.3" stroke="#80c465" stroke-width="0.65"/>
<path d="M133.8 449.6L135.6 451.4M135.6 449.6L133.8 451.4" stroke="#80c465" stroke-width="0.65"/>
<path d="M140.1 449.1L141.9 450.9M141.9 449.1L140.1 450.9" stroke="#80c465" stroke-width="0.65"/>
<circle cx="148.1" cy="349.2" r="1.6" fill="#4ea437"/>
<circle cx="161.5" cy="383.7" r="1.6" fill="#f2b31a"/>
<circle cx="161.5" cy="394.4" r="1.6" fill="#4ea437"/>
<circle cx="113.8" cy="385.8" r="1.6" fill="#3b135f"/>
<circle cx="117.7" cy="392.5" r="1.6" fill="#3b135f"/>
<circle cx="106.7" cy="400.2" r="1.6" fill="#1b3f7f"/>
<circle cx="127.7" cy="399.6" r="1.6" fill="#4ea437"/>
<circle cx="144.9" cy="399.1" r="1.6" fill="#4b2a0e"/>
<circle cx="147.9" cy="398.5" r="1.6" fill="#4ea437"/>
<circle cx="117.2" cy="408.2" r="1.6" fill="#3b135f"/>
<circle cx="120.7" cy="416.1" r="1.6" fill="#1b3f7f"/>
<circle cx="143.3" cy="411.3" r="1.6" fill="#f2b31a"/>
<circle cx="142.9" cy="414.8" r="1.6" fill="#f2b31a"/>
<circle cx="147.6" cy="417.1" r="1.6" fill="#4ea437"/>
<circle cx="149.1" cy="418.9" r="1.6" fill="#4ea437"/>
<circle cx="145.2" cy="423.3" r="1.6" fill="#4ea437"/>
<circle cx="140" cy="427.8" r="1.6" fill="#f2b31a"/>
<circle cx="144.9" cy="429" r="1.6" fill="#4b2a0e"/>
<circle cx="148.4" cy="429.1" r="1.6" fill="#4ea437"/>
<circle cx="121.7" cy="426.7" r="1.6" fill="#5fb0ec"/>
<circle cx="116.2" cy="430.4" r="1.6" fill="#3b135f"/>
<circle cx="101" cy="432.7" r="1.6" fill="#1b3f7f"/>
<circle cx="127.3" cy="433.8" r="1.6" fill="#4ea437"/>
<circle cx="140.9" cy="433.7" r="1.6" fill="#1b3f7f"/>
<circle cx="142.9" cy="433.7" r="1.6" fill="#4b2a0e"/>
<circle cx="144.2" cy="434.1" r="1.6" fill="#4b2a0e"/>
<circle cx="139.2" cy="437.3" r="1.6" fill="#f2b31a"/>
<circle cx="142.1" cy="439.5" r="1.6" fill="#4ea437"/>
<circle cx="113.3" cy="441.5" r="1.6" fill="#1b3f7f"/>
<circle cx="111.9" cy="447.9" r="1.6" fill="#1b3f7f"/>
<circle cx="144.1" cy="448" r="1.6" fill="#4ea437"/>
<circle cx="151.4" cy="411" r="1.6" fill="#4b2a0e"/>
<circle cx="175.3" cy="412.1" r="1.6" fill="#f2b31a"/>
<circle cx="179.6" cy="420.9" r="1.6" fill="#4ea437"/>
<circle cx="178.5" cy="424.4" r="1.6" fill="#4b2a0e"/>
<circle cx="170.9" cy="429.6" r="1.6" fill="#4ea437"/>
<ellipse cx="115.7" cy="389.3" rx="6.1" ry="8.1" transform="rotate(-15 115.7 389.3)" fill="none" stroke="#111" stroke-width="1.15" stroke-dasharray="2.8 1.8"/>
<rect x="0.5" y="0.5" width="519" height="488" fill="none" stroke="#000" stroke-width="1.2"/>
</svg>
</body></html>
